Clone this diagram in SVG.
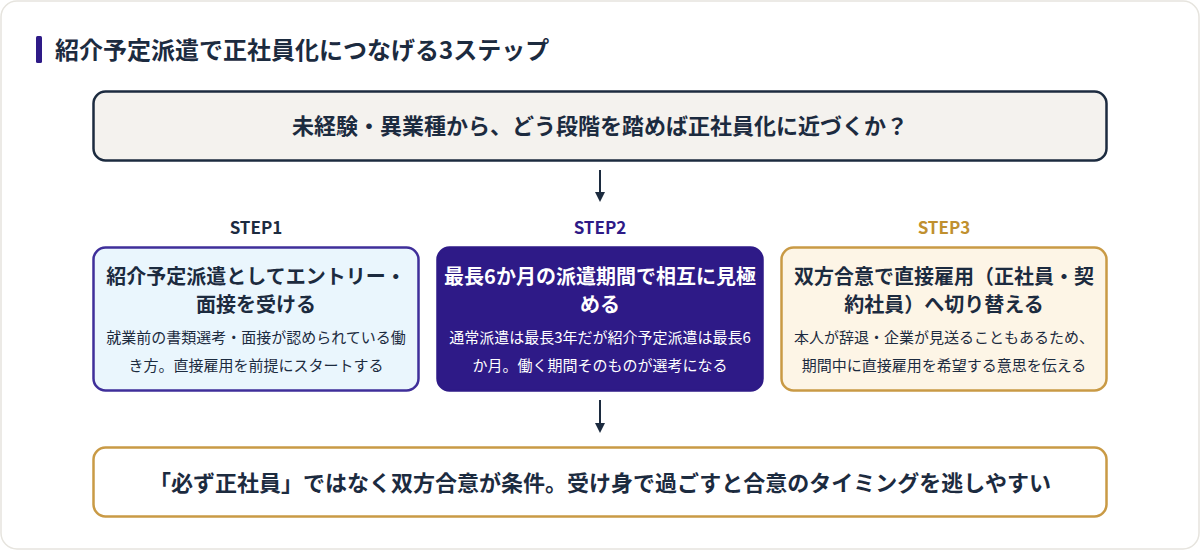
<svg xmlns="http://www.w3.org/2000/svg" width="1200" height="550" viewBox="0 0 1200 550">
<style>
text{font-family:"Noto Sans CJK JP","Noto Sans",sans-serif;text-anchor:middle}
.h{font-size:22px;font-weight:700;fill:#1c2b3f}
.st{font-size:17px;font-weight:700}
.t{font-size:20px;font-weight:700;fill:#1c2b3f}
.d{font-size:15px;fill:#1c2b3f}
.conn{stroke:#1c2b3f;stroke-width:2;fill:none}
</style>
<defs><marker id="ah" markerWidth="10" markerHeight="10" refX="8" refY="5" orient="auto" markerUnits="userSpaceOnUse"><path d="M0,0 L10,5 L0,10 z" fill="#1c2b3f"/></marker></defs>
<rect x="1" y="1" width="1198" height="548" rx="16" fill="#fff" stroke="#e6e4de" stroke-width="1.5"/>
<g id="title"><rect x="36" y="36" width="6" height="27" rx="1.5" fill="#2e1a87"/>
<text x="55" y="59" style="text-anchor:start;font-size:24px;font-weight:700;fill:#1c2b3f">紹介予定派遣で正社員化につなげる3ステップ</text></g>
<g id="question"><rect x="93.5" y="91.5" width="1013" height="69" rx="12" fill="#f4f2ee" stroke="#1c2b3f" stroke-width="2.5"/>
<text class="h" x="600" y="134">未経験・異業種から、どう段階を踏めば正社員化に近づくか？</text></g>
<g id="step1"><text class="st" x="256" y="234" fill="#1c2b3f">STEP1</text>
<rect x="93.5" y="247.5" width="325" height="143" rx="12" fill="#eaf6fd" stroke="#3f2f9a" stroke-width="2.5"/>
<text class="t" x="256" y="284">紹介予定派遣としてエントリー・</text><text class="t" x="256" y="312">面接を受ける</text>
<text class="d" x="256" y="343">就業前の書類選考・面接が認められている働</text><text class="d" x="256" y="371">き方。直接雇用を前提にスタートする</text></g>
<g id="step2"><text class="st" x="600" y="234" fill="#2e1a87">STEP2</text>
<rect x="437.5" y="247.5" width="325" height="143" rx="12" fill="#2e1a87" stroke="#2e1a87" stroke-width="2.5"/>
<text class="t" x="600" y="284" style="fill:#fff">最長6か月の派遣期間で相互に見極</text><text class="t" x="600" y="312" style="fill:#fff">める</text>
<text class="d" x="600" y="343" style="fill:#fff">通常派遣は最長3年だが紹介予定派遣は最長6</text><text class="d" x="600" y="371" style="fill:#fff">か月。働く期間そのものが選考になる</text></g>
<g id="step3"><text class="st" x="944" y="234" fill="#c0902f">STEP3</text>
<rect x="781.5" y="247.5" width="325" height="143" rx="12" fill="#fdf5e6" stroke="#c99a45" stroke-width="2.5"/>
<text class="t" x="944" y="284">双方合意で直接雇用（正社員・契</text><text class="t" x="944" y="312">約社員）へ切り替える</text>
<text class="d" x="944" y="343">本人が辞退・企業が見送ることもあるため、</text><text class="d" x="944" y="371">期間中に直接雇用を希望する意思を伝える</text></g>
<g id="conclusion"><rect x="93.5" y="447.5" width="1013" height="69" rx="12" fill="#fff" stroke="#c99a45" stroke-width="2.5"/>
<text class="h" x="600" y="491">「必ず正社員」ではなく双方合意が条件。受け身で過ごすと合意のタイミングを逃しやすい</text></g>
<g id="connectors"><line class="conn" x1="600" y1="170" x2="600" y2="200" marker-end="url(#ah)"/>
<line class="conn" x1="600" y1="400" x2="600" y2="431" marker-end="url(#ah)"/></g>
</svg>
